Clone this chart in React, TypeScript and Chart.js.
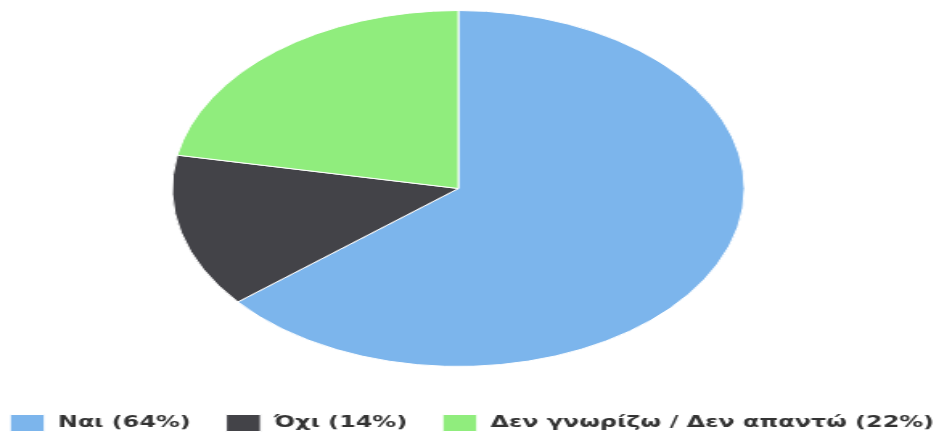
import React, { useEffect, useRef } from "react";
import { Chart, registerables } from "chart.js";

Chart.register(...registerables);

const categories = ["Ναι (64%)", "Όχι (14%)", "Δεν γνωρίζω / Δεν απαντώ (22%)"];
const values = [64, 14, 22];
const colors = ["#7cb5ec", "#434348", "#90ed7d"];

const SCALE = 1.608;
const BASE_W = 944 / SCALE;

export default function App() {
  const ref = useRef<HTMLCanvasElement | null>(null);
  useEffect(() => {
    if (!ref.current) return;
    const helperPlugin = {
      id: "helper",
      afterInit(chart: any) {
        const lg = chart.legend;
        if (!lg || lg.__patched) return;
        lg.__patched = true;
        const origFit = lg._fitRows;
        lg._fitRows = function (...a: any[]) {
          const m = this.maxWidth;
          this.maxWidth = m + 200;
          const r = origFit.apply(this, a);
          this.maxWidth = m;
          return r;
        };
        const origDraw = lg._draw;
        lg._draw = function () {
          const l = this.left;
          const r = this.right;
          this.left = l - 100;
          this.right = r + 100;
          origDraw.call(this);
          this.left = l;
          this.right = r;
        };
      },
      afterLayout(chart: any) {
        chart.chartArea.right -= 17;
        chart.chartArea.width -= 17;
      },
    };
    const chart = new Chart(ref.current, {
      type: "pie",
      data: {
        labels: categories,
        datasets: [
          {
            data: values,
            backgroundColor: colors,
            borderColor: "#ffffff",
            borderWidth: 1,
            hoverOffset: 0,
          },
        ],
      },
      options: {
        animation: false,
        responsive: true,
        maintainAspectRatio: false,
        layout: { padding: { top: 10, bottom: 0, left: 0, right: 0 } },
        plugins: {
          tooltip: { enabled: false },
          legend: {
            position: "bottom",
            maxHeight: 71,
            title: { display: true, text: " ", padding: { top: 0, bottom: 13.5 }, font: { size: 10 } },
            labels: {
              boxWidth: 21.5,
              boxHeight: 17,
              padding: 22,
              color: "#333333",
              font: { family: "'DejaVu Sans Condensed', 'DejaVu Sans'", size: 16.5, weight: "bold" },
            },
          },
        },
      },
      plugins: [helperPlugin],
    });
    return () => chart.destroy();
  }, []);
  return (
    <div style={{ position: "fixed", left: 0, top: 0, width: 944, height: 438, overflow: "hidden", background: "#fff" }}>
      <div
        style={{
          width: BASE_W,
          height: 438,
          transform: `scaleX(${SCALE})`,
          transformOrigin: "0 0",
        }}
      >
        <canvas ref={ref} />
      </div>
    </div>
  );
}
